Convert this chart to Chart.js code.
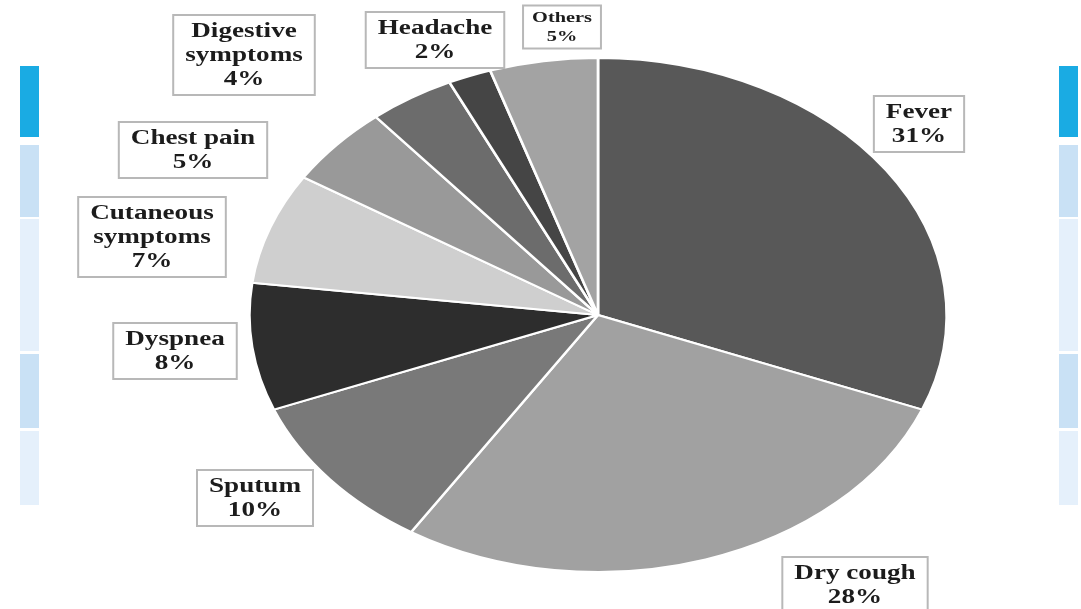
<!DOCTYPE html>
<html>
<head>
<meta charset="utf-8">
<script src="https://cdn.jsdelivr.net/npm/chart.js@4"></script>
<style>
  body { margin: 0; background: #fff; }
  #wrap { position: relative; width: 1081px; height: 609px; overflow: hidden; }
  .side { position: absolute; width: 19px; }
  canvas { position: absolute; left: 0; top: 0; }
</style>
</head>
<body>
<div id="wrap">
  <div class="side" style="left:20px;top:66px;height:71px;background:#1aabe3"></div>
  <div class="side" style="left:20px;top:145px;height:72px;background:#c9e1f5"></div>
  <div class="side" style="left:20px;top:219px;height:132px;background:#e5f0fb"></div>
  <div class="side" style="left:20px;top:354px;height:74px;background:#c9e1f5"></div>
  <div class="side" style="left:20px;top:431px;height:74px;background:#e5f0fb"></div>
  <div class="side" style="left:1059px;top:66px;height:71px;background:#1aabe3"></div>
  <div class="side" style="left:1059px;top:145px;height:72px;background:#c9e1f5"></div>
  <div class="side" style="left:1059px;top:219px;height:132px;background:#e5f0fb"></div>
  <div class="side" style="left:1059px;top:354px;height:74px;background:#c9e1f5"></div>
  <div class="side" style="left:1059px;top:431px;height:74px;background:#e5f0fb"></div>
  <canvas id="pie" width="1081" height="609"></canvas>
</div>
<script>
// data
const categories = ['Fever', 'Dry cough', 'Sputum', 'Dyspnea', ['Cutaneous', 'symptoms'],
  'Chest pain', ['Digestive', 'symptoms'], 'Headache', 'Others'];
const percents = [31, 28, 10, 8, 7, 5, 4, 2, 5];
const sliceColors = ['#585858', '#a1a1a1', '#797979', '#2d2d2d', '#cfcfcf',
  '#999999', '#6c6c6c', '#454545', '#a3a3a3'];

// label box centres (layout only)
const labelAt = [[919, 124], [855, 585], [255, 498], [175, 351], [152, 237],
  [193, 150], [244, 55], [435, 40], [562, 27]];
const labelFont = [20, 20, 20, 20, 20, 20, 20, 20, 15];

const STRETCH = 350 / 258; // the source image is squeezed wider than tall

// draw the pie as an ellipse
const stretchPie = {
  id: 'stretchPie',
  beforeDatasetsDraw(chart) {
    const arc = chart.getDatasetMeta(0).data[0];
    const ctx = chart.ctx;
    ctx.save();
    ctx.translate(arc.x, arc.y);
    ctx.scale(STRETCH, 1);
    ctx.translate(-arc.x, -arc.y);
  },
  afterDatasetsDraw(chart) {
    chart.ctx.restore();
  }
};

// boxed labels
const boxLabels = {
  id: 'boxLabels',
  afterDraw(chart) {
    const ctx = chart.ctx;
    chart.data.labels.forEach((name, i) => {
      const lines = [].concat(name, percents[i] + '%');
      const size = labelFont[i];
      const lh = size < 18 ? 19 : 24;
      ctx.save();
      ctx.font = `bold ${size}px "Liberation Serif", "Times New Roman", serif`;
      const textW = Math.max(...lines.map(l => ctx.measureText(l).width)) * STRETCH;
      const pad = size < 18 ? 9 : 12;
      const w = textW + pad * 2;
      const h = lines.length * lh + (size < 18 ? 5 : 8);
      const [cx, cy] = labelAt[i];
      ctx.fillStyle = '#fff';
      ctx.strokeStyle = '#b8b8b8';
      ctx.lineWidth = 2;
      ctx.fillRect(cx - w / 2, cy - h / 2, w, h);
      ctx.strokeRect(cx - w / 2, cy - h / 2, w, h);
      ctx.fillStyle = '#1c1c1c';
      ctx.textAlign = 'center';
      ctx.textBaseline = 'middle';
      lines.forEach((l, k) => {
        const y = cy - (lines.length - 1) * lh / 2 + k * lh;
        ctx.save();
        ctx.translate(cx, y + 1);
        ctx.scale(STRETCH, 1);
        ctx.fillText(l, 0, 0);
        ctx.restore();
      });
      ctx.restore();
    });
  }
};

new Chart(document.getElementById('pie'), {
  type: 'pie',
  data: {
    labels: categories,
    datasets: [{
      data: percents,
      backgroundColor: sliceColors,
      borderColor: '#ffffff',
      borderWidth: 2
    }]
  },
  options: {
    responsive: false,
    animation: false,
    layout: { padding: { top: 57, bottom: 36, left: 340, right: 225 } },
    plugins: {
      legend: { display: false },
      tooltip: { enabled: false }
    }
  },
  plugins: [stretchPie, boxLabels]
});
</script>
</body>
</html>
